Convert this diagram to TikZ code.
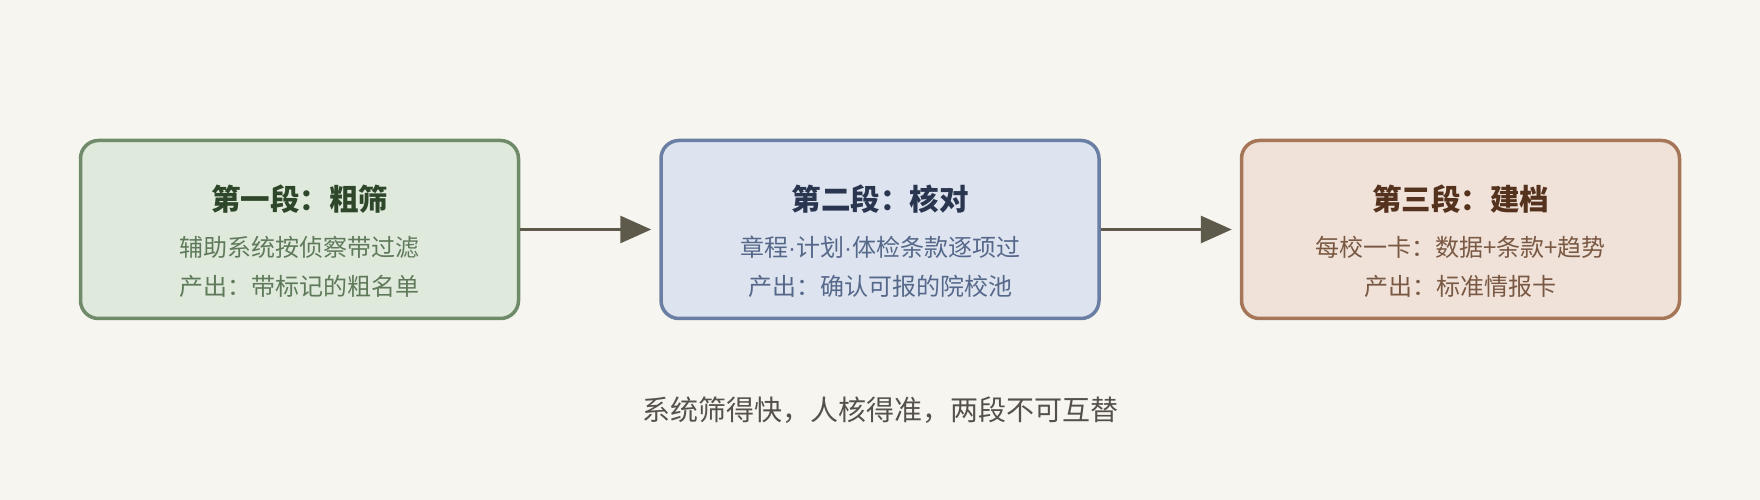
\documentclass[tikz,border=0pt]{standalone}
\usepackage{fontspec}
\setmainfont{Noto Sans CJK SC}
\newfontfamily\dotfont{Liberation Sans}
\usepackage{tikz}
\usetikzlibrary{positioning,calc,arrows.meta}
\definecolor{paper}{HTML}{F6F5F0}
\definecolor{greenline}{HTML}{6F8B69}
\definecolor{greenfill}{HTML}{DFE9DC}
\definecolor{greentext}{HTML}{2E4629}
\definecolor{greensub}{HTML}{5F7A5A}
\definecolor{blueline}{HTML}{6B7FA4}
\definecolor{bluefill}{HTML}{DDE4EF}
\definecolor{bluetext}{HTML}{2A3650}
\definecolor{bluesub}{HTML}{56688A}
\definecolor{brownline}{HTML}{A57758}
\definecolor{brownfill}{HTML}{F0E2D8}
\definecolor{browntext}{HTML}{55321E}
\definecolor{brownsub}{HTML}{7A5944}
\definecolor{arrowgray}{HTML}{5E5A4B}
\definecolor{notetext}{HTML}{55514A}
\newcommand{\mdot}{{\dotfont ·}}
\tikzstyle{stage} = [draw, rectangle, rounded corners=18pt, line width=3.5pt,
    minimum width=438pt, minimum height=178pt, inner sep=0pt]
\tikzstyle{title} = [font=\fontsize{29.5}{34}\selectfont\bfseries, inner sep=0pt]
\tikzstyle{sub} = [font=\fontsize{24}{28}\selectfont, inner sep=0pt]
\tikzstyle{note} = [font=\fontsize{28}{32}\selectfont, inner sep=0pt, text=notetext]
\tikzstyle{arr} = [draw, line width=3pt, ->, color=arrowgray, shorten >=8pt]

\begin{document}
\begin{tikzpicture}[x=1pt, y=1pt, >={Triangle[length=31pt, width=27pt]}]
    \fill [paper] (0,0) rectangle (1760,500);
    \useasboundingbox (0,0) rectangle (1760,500);

    \node at (299.5,270.5) [stage, name=coarse, draw=greenline, fill=greenfill] {};
    \node [stage, right=139pt of coarse, draw=blueline, fill=bluefill] (check) {};
    \node [stage, right=139pt of check, draw=brownline, fill=brownfill] (archive) {};

    \draw [arr] (coarse) -- (check);
    \draw [arr] (check) -- (archive);

    \node at ($(coarse.center) + (0,30)$) [title, text=greentext] (coarse-t) {第一段：粗筛};
    \node at ($(coarse.center) + (0,-18)$) [sub, text=greensub] (coarse-a) {辅助系统按侦察带过滤};
    \node at ($(coarse.center) + (0,-57)$) [sub, text=greensub] (coarse-b) {产出：带标记的粗名单};

    \node at ($(check.center) + (0,30)$) [title, text=bluetext] (check-t) {第二段：核对};
    \node at ($(check.center) + (0,-18)$) [sub, text=bluesub] (check-a) {章程\mdot 计划\mdot 体检条款逐项过};
    \node at ($(check.center) + (0,-57)$) [sub, text=bluesub] (check-b) {产出：确认可报的院校池};

    \node at ($(archive.center) + (0,30)$) [title, text=browntext] (archive-t) {第三段：建档};
    \node at ($(archive.center) + (0,-18)$) [sub, text=brownsub] (archive-a) {每校一卡：数据+条款+趋势};
    \node at ($(archive.center) + (0,-57)$) [sub, text=brownsub] (archive-b) {产出：标准情报卡};

    \node at (880,90) [note] (summary) {系统筛得快，人核得准，两段不可互替};
\end{tikzpicture}
\end{document}
